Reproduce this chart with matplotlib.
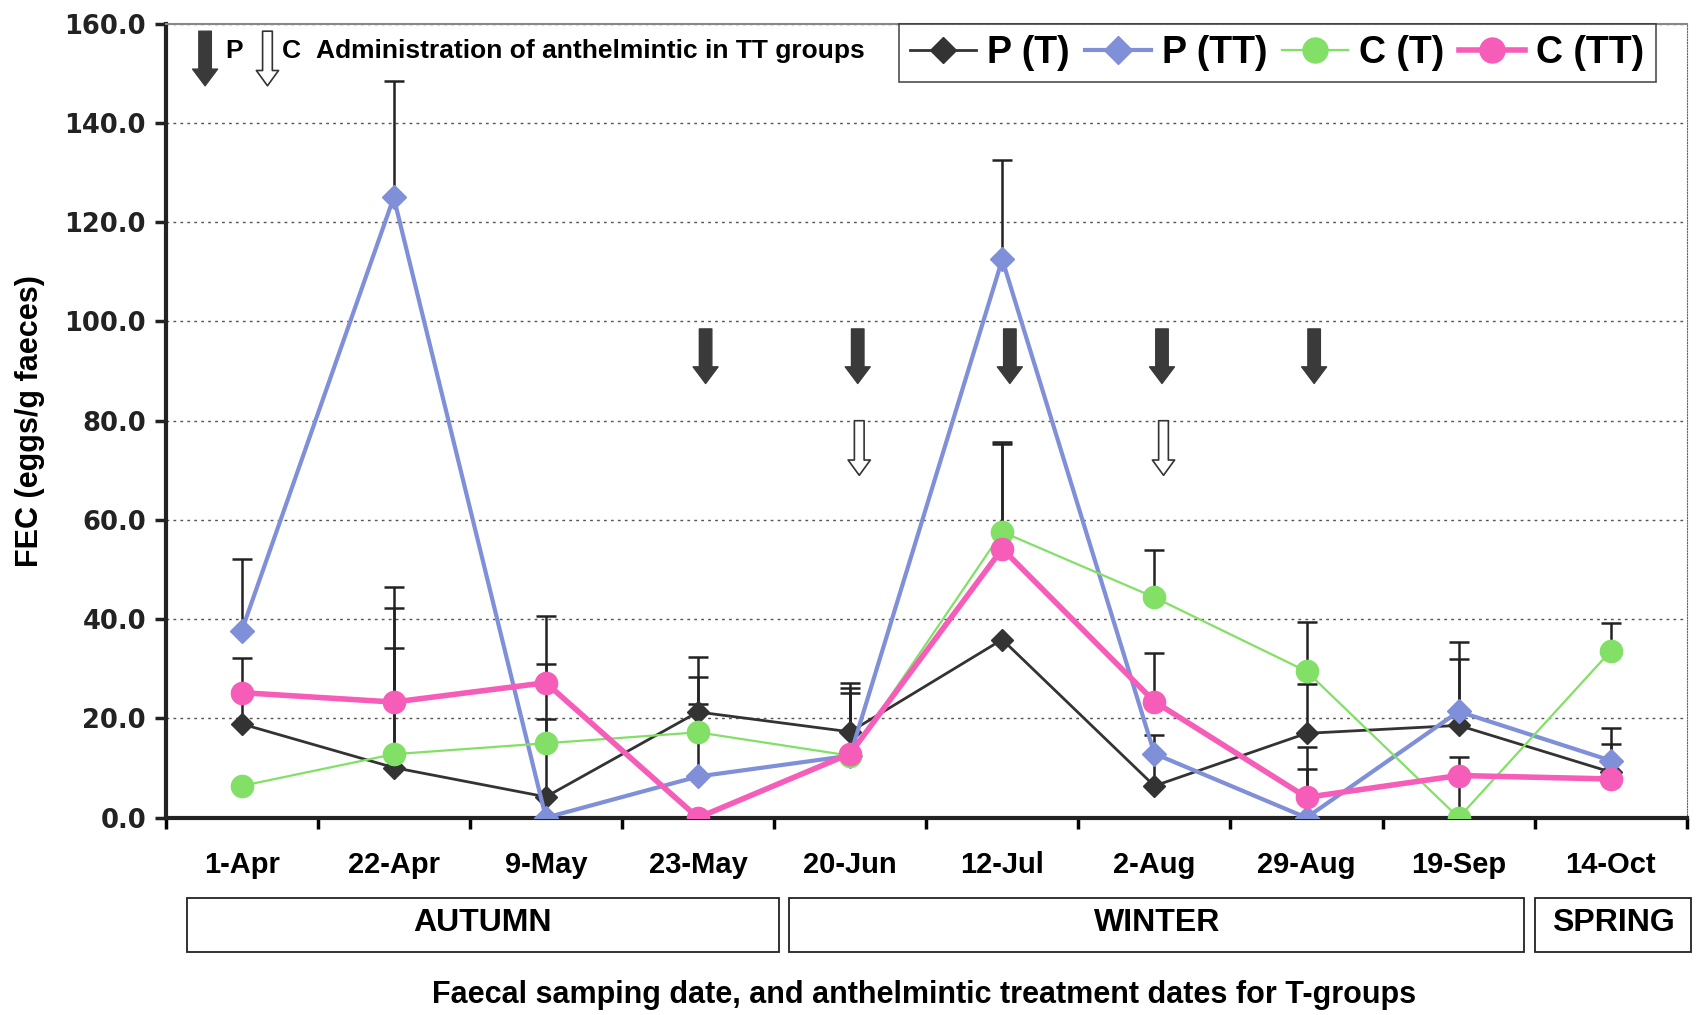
import numpy as np
import matplotlib.pyplot as plt
from matplotlib.transforms import blended_transform_factory
from matplotlib.patches import Rectangle
from matplotlib.lines import Line2D

# sampling dates
dates = ["1-Apr", "22-Apr", "9-May", "23-May", "20-Jun", "12-Jul",
         "2-Aug", "29-Aug", "19-Sep", "14-Oct"]

# mean FEC (eggs/g faeces) per group
p_t = [18.9, 10.1, 4.2, 21.3, 17.3, 35.9, 6.4, 17.0, 18.6, 9.2]
p_tt = [37.6, 125.0, 0.0, 8.3, 12.5, 112.5, 12.9, 0.0, 21.4, 11.5]
c_t = [6.4, 12.8, 15.0, 17.2, 12.5, 57.6, 44.4, 29.5, 0.0, 33.6]
c_tt = [25.2, 23.3, 27.2, 0.0, 12.9, 54.2, 23.4, 4.1, 8.5, 7.8]

# upper error (SE) per group
p_t_err = [13.2, 24.0, 15.7, 11.1, 9.8, 0.0, 10.2, 9.9, 13.3, 5.7]
p_tt_err = [14.5, 23.4, 0.0, 14.7, 12.6, 20.0, 0.0, 9.8, 14.1, 6.5]
c_t_err = [0.0, 29.5, 15.9, 11.1, 0.0, 18.2, 9.5, 10.0, 12.2, 5.7]
c_tt_err = [0.0, 23.1, 13.5, 0.0, 13.2, 21.1, 9.8, 10.1, 0.0, 0.0]

# treatment dates (index of sampling date)
p_doses = [3, 4, 5, 6, 7]
c_doses = [4, 6]

seasons = ["AUTUMN", "WINTER", "SPRING"]
season_span = [(-0.36, 3.53), (3.60, 8.43), (8.50, 9.53)]

NARROW = ["Liberation Sans Narrow", "Liberation Sans", "DejaVu Sans"]

fig = plt.figure(figsize=(16.96, 10.15), dpi=100)
ax = fig.add_axes([0.0976, 0.1944, 0.897, 0.7822])
x = np.arange(len(dates))

series = [
    ("P (T)", p_t, p_t_err, "#333333", "D", 11, 2.0),
    ("P (TT)", p_tt, p_tt_err, "#7f8fd8", "D", 12, 3.0),
    ("C (T)", c_t, c_t_err, "#82e066", "o", 16, 1.6),
    ("C (TT)", c_tt, c_tt_err, "#f55db8", "o", 16, 4.0),
]

for name, vals, err, col, mk, ms, lw in series:
    ax.errorbar(x, vals, yerr=[np.zeros(len(vals)), err], fmt="none",
                ecolor="#222222", elinewidth=1.8, capsize=7, capthick=1.8,
                zorder=2)
handles = []
for i, (name, vals, err, col, mk, ms, lw) in enumerate(series):
    ax.plot(x, vals, color=col, lw=lw, marker=mk, ms=ms, mec=col,
            mfc=col, zorder=3 + i)
    handles.append(Line2D([], [], color=col, lw=lw, marker=mk, ms=ms + 2,
                          mec=col, mfc=col))

ax.set_xlim(-0.5, len(dates) - 0.5)
ax.set_ylim(0, 160)
ax.set_yticks(np.arange(0, 161, 20))
ax.set_yticklabels(["%.1f" % v for v in np.arange(0, 161, 20)],
                   fontsize=18.5, fontweight="bold", family="DejaVu Sans")
ax.set_xticks(x)
ax.set_xticklabels(dates, fontsize=21, fontweight="bold",
                   family="Liberation Sans")
ax.set_xticks(np.arange(-0.5, len(dates), 1), minor=True)
ax.tick_params(axis="x", which="major", length=0, pad=24)
ax.tick_params(axis="x", which="minor", length=8, width=2.5, direction="out")
ax.tick_params(axis="y", length=8, width=2.5, pad=6, colors="#222222")
ax.yaxis.grid(True, ls=(0, (2, 3)), color="#555555", lw=1)

for side in ["left", "bottom"]:
    ax.spines[side].set_linewidth(3)
    ax.spines[side].set_color("#222222")
ax.spines["top"].set_color("#888888")
ax.spines["top"].set_linewidth(1.5)
ax.spines["right"].set_linestyle((0, (1, 1.5)))
ax.spines["right"].set_color("#666666")

# treatment arrows
filled = dict(arrowstyle="simple,head_length=0.6,head_width=0.9,tail_width=0.45",
              fc="#3a3a3a", ec="#3a3a3a", shrinkA=0, shrinkB=0, mutation_scale=20)
hollow = dict(arrowstyle="simple,head_length=0.55,head_width=0.8,tail_width=0.35",
              fc="white", ec="#333333", lw=1.2, shrinkA=0, shrinkB=0,
              mutation_scale=20)
for d in p_doses:
    ax.annotate("", xy=(d + 0.05, 87.5), xytext=(d + 0.05, 98.5),
                arrowprops=filled, zorder=8)
for d in c_doses:
    ax.annotate("", xy=(d + 0.06, 69.0), xytext=(d + 0.06, 80.0),
                arrowprops=hollow, zorder=8)

# key for the arrows
ax.annotate("", xy=(-0.24, 147.5), xytext=(-0.24, 158.5),
            arrowprops=filled, zorder=8)
ax.annotate("", xy=(0.17, 147.5), xytext=(0.17, 158.5),
            arrowprops=hollow, zorder=8)
ax.text(-0.05, 154.5, "P", fontsize=19, fontweight="bold", family=NARROW,
        ha="center", va="center")
ax.text(0.33, 154.5, "C", fontsize=19, fontweight="bold", family=NARROW,
        ha="center", va="center")
ax.text(0.49, 154.5, "Administration of anthelmintic in TT groups",
        fontsize=19, fontweight="bold", family=NARROW, ha="left", va="center")

leg = ax.legend(handles, [s[0] for s in series], ncol=4, loc="upper right",
                bbox_to_anchor=(0.9795, 1.0), borderaxespad=0, frameon=True,
                fancybox=False, handlelength=1.75, handletextpad=0.3,
                columnspacing=0.4, borderpad=0.3,
                prop=dict(family=NARROW, weight="bold", size=27))
leg.get_frame().set_edgecolor("#222222")
leg.get_frame().set_linewidth(1.2)

# season boxes under the dates
trans = blended_transform_factory(ax.transData, ax.transAxes)
for name, (a, b) in zip(seasons, season_span):
    ax.add_patch(Rectangle((a, -0.169), b - a, 0.068, transform=trans,
                           fill=False, ec="#222222", lw=1.3, clip_on=False))
    ax.text((a + b) / 2, -0.133, name, transform=trans, ha="center",
            va="center", fontsize=23, fontweight="bold", family=NARROW)

ax.set_ylabel("FEC (eggs/g faeces)", fontsize=22, fontweight="bold",
              family=NARROW, labelpad=14)
fig.text(0.545, 0.02, "Faecal samping date, and anthelmintic treatment dates for T-groups",
         ha="center", va="center", fontsize=22, fontweight="bold", family=NARROW)

fig.savefig("out.png", dpi=100)
